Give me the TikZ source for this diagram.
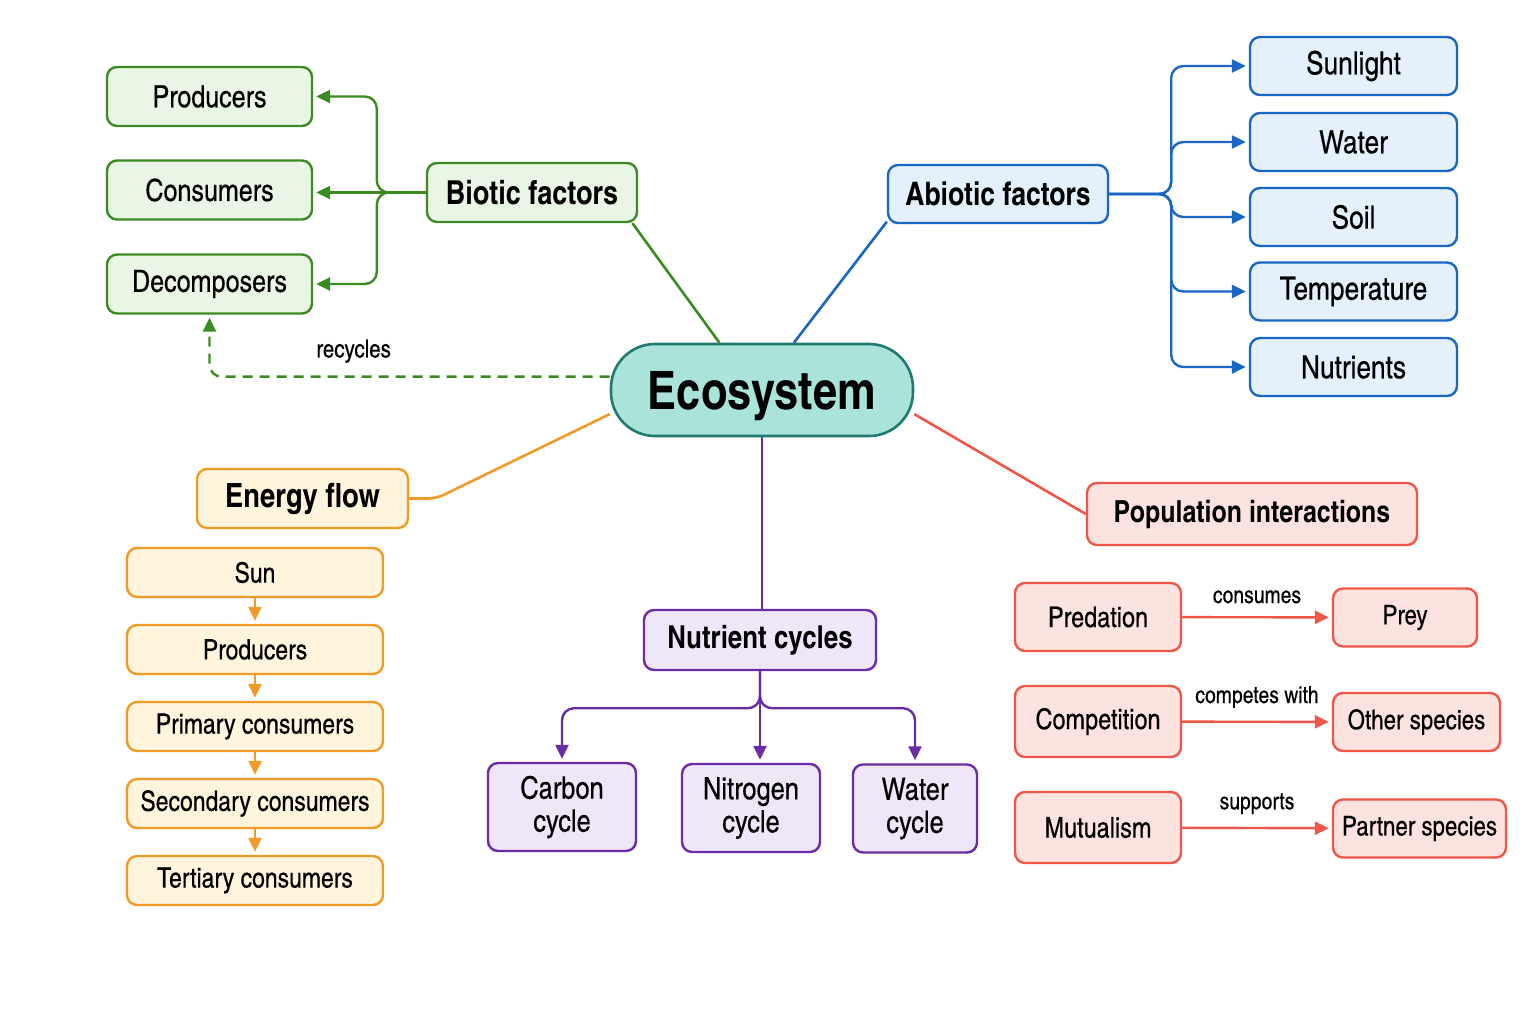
\documentclass[tikz,border=0pt]{standalone}
\usepackage{fontspec}
\setmainfont{texgyreheroscn-regular.otf}[BoldFont=texgyreheroscn-bold.otf,
    UprightFeatures={FakeBold=0.35}]
\usepackage{xcolor}
\usetikzlibrary{arrows.meta, positioning, calc}

\definecolor{bioline}{HTML}{3A8C22}
\definecolor{biofill}{HTML}{EAF6E5}
\definecolor{abioline}{HTML}{1A66C4}
\definecolor{abiofill}{HTML}{E4F1FC}
\definecolor{enline}{HTML}{F09A28}
\definecolor{enfill}{HTML}{FFF4DC}
\definecolor{nutline}{HTML}{6A2BA6}
\definecolor{nutfill}{HTML}{EFE6FA}
\definecolor{popline}{HTML}{EE5748}
\definecolor{popfill}{HTML}{FDE3DF}
\definecolor{ecoline}{HTML}{1F7A70}
\definecolor{ecofill}{HTML}{A9E3DA}

\begin{document}
\begin{tikzpicture}[
    x=0.5pt, y=-0.5pt,
    node distance=12.8pt,
    box/.style={rectangle, rounded corners=5pt, line width=1.2pt,
                align=center, inner sep=2pt},
    hub/.style={rectangle, rounded corners=22pt, line width=1.3pt,
                draw=ecoline, fill=ecofill, minimum width=151pt,
                minimum height=46pt, text depth=0pt,
                font=\fontsize{26.5}{30}\selectfont\bfseries},
    bioleaf/.style={box, draw=bioline, fill=biofill, font=\fontsize{15.3}{18}\selectfont,
                    minimum width=102.5pt, minimum height=29.5pt},
    biohead/.style={bioleaf, font=\fontsize{16.5}{19}\selectfont\bfseries,
                    minimum width=105pt},
    abioleaf/.style={box, draw=abioline, fill=abiofill, font=\fontsize{16}{18}\selectfont,
                     minimum width=103.5pt, minimum height=29pt},
    abiohead/.style={abioleaf, font=\fontsize{16.2}{19}\selectfont\bfseries,
                     minimum width=110pt},
    enleaf/.style={box, draw=enline, fill=enfill, font=\fontsize{14}{16}\selectfont,
                   minimum width=128pt, minimum height=24.5pt},
    enhead/.style={enleaf, font=\fontsize{16.7}{19}\selectfont\bfseries,
                   minimum width=105.5pt, minimum height=29.5pt},
    nutleaf/.style={box, draw=nutline, fill=nutfill, font=\fontsize{15.5}{16.5}\selectfont,
                    minimum height=44pt},
    nuthead/.style={nutleaf, font=\fontsize{15.8}{19}\selectfont\bfseries,
                    minimum width=116pt, minimum height=30pt},
    popleft/.style={box, draw=popline, fill=popfill, font=\fontsize{14.3}{17}\selectfont,
                    minimum width=83pt, minimum height=35.5pt},
    popright/.style={box, draw=popline, fill=popfill, font=\fontsize{13.6}{16}\selectfont,
                     minimum height=29pt},
    pophead/.style={popright, font=\fontsize{15.2}{18}\selectfont\bfseries,
                    minimum width=165pt, minimum height=31pt},
    link/.style={line width=1.3pt},
    arr/.style={-{Triangle[length=7pt, width=6.5pt]}, line width=1.2pt, shorten >=1.5pt},
    tag/.style={text=black, font=\fontsize{11.8}{13}\selectfont},
]
\useasboundingbox (0,0) rectangle (1536,1024);

% Centre
\node[hub] (eco) at (762,390) {Ecosystem};

% Biotic factors
\node[biohead] (bio) at (532,192.5) {Biotic factors};
\node[bioleaf] (prod) at (209.5,96.5) {Producers};
\node[bioleaf] (cons) at (209.5,190) {Consumers};
\node[bioleaf] (deco) at (209.5,284) {Decomposers};
\draw[link, bioline] (eco.132) -- (bio.-17);
\draw[arr, bioline, rounded corners=6pt] (bio.west) -- ++(-24.5pt,0) |- (prod.east);
\draw[arr, bioline] (bio.west) -- (bio.west -| cons.east);
\draw[arr, bioline, rounded corners=6pt] (bio.west) -- ++(-24.5pt,0) |- (deco.east);
\draw[arr, bioline, dash pattern=on 5pt off 3.5pt, rounded corners=6pt]
    (eco.175) -| node[tag, font=\fontsize{12.5}{14}\selectfont, pos=0.32, above=3pt] {recycles} (deco.south);

% Abiotic factors
\node[abiohead] (abio) at (998,194) {Abiotic factors};
\node[abioleaf] (light) at (1353.5,66) {Sunlight};
\node[abioleaf] (water) at (1353.5,142) {Water};
\node[abioleaf] (soil) at (1353.5,217) {Soil};
\node[abioleaf] (temp) at (1353.5,291.5) {Temperature};
\node[abioleaf] (nutri) at (1353.5,367) {Nutrients};
\draw[link, abioline] (eco.56) -- (abio.194);
\foreach \n in {light, water, soil, temp, nutri}
    \draw[arr, abioline, rounded corners=6pt] (abio.east) -- ++(31pt,0) |- (\n.west);

% Energy flow
\node[enhead] (energy) at (302.5,498.5) {Energy flow};
\node[enleaf] (esun) at (255,572.5) {Sun};
\node[enleaf, below=of esun] (eprod) {Producers};
\node[enleaf, below=of eprod] (eprim) {Primary consumers};
\node[enleaf, below=of eprim] (esec) {Secondary consumers};
\node[enleaf, below=of esec] (eter) {Tertiary consumers};
\draw[link, enline, rounded corners=4pt]
    (eco.189) -- ($(energy.east)+(13.5pt,0)$) -- (energy.east);
\foreach \a/\b in {esun/eprod, eprod/eprim, eprim/esec, esec/eter}
    \draw[arr, enline] (\a) -- (\b);

% Nutrient cycles
\node[nuthead] (nut) at (760,640) {Nutrient cycles};
\node[nutleaf, minimum width=74pt] (carb) at (562,807) {Carbon\\cycle};
\node[nutleaf, minimum width=69pt] (nitro) at (751,808) {Nitrogen\\cycle};
\node[nutleaf, minimum width=62pt] (wcyc) at (915,808.5) {Water\\cycle};
\draw[link, nutline] (eco.south) -- (eco.south |- nut.north);
\draw[arr, nutline, rounded corners=6pt] (nut.south) -- ++(0,-18.5pt) -| (carb.north);
\draw[arr, nutline] (nut.south) -- (nut.south |- nitro.north);
\draw[arr, nutline, rounded corners=6pt] (nut.south) -- ++(0,-18.5pt) -| (wcyc.north);

% Population interactions
\node[pophead] (pop) at (1252,514) {Population interactions};
\node[popleft, minimum height=34pt] (pred) at (1098,617) {Predation};
\node[popleft] (comp) at (1098,721.5) {Competition};
\node[popleft] (mutu) at (1098,827.5) {Mutualism};
\node[popright, minimum width=72pt] (prey) at (1405,617.5) {Prey};
\node[popright, minimum width=83.5pt] (other) at (1416.5,722) {Other species};
\node[popright, minimum width=86.5pt] (partner) at (1419.5,828.5) {Partner species};
\draw[link, popline] (eco.-9) -- (pop.west);
\draw[arr, popline] (pred) -- node[tag, above=3pt] {consumes} (prey);
\draw[arr, popline] (comp) -- node[tag, above=3pt] {competes with} (other);
\draw[arr, popline] (mutu) -- node[tag, above=3pt] {supports} (partner);

\end{tikzpicture}
\end{document}
